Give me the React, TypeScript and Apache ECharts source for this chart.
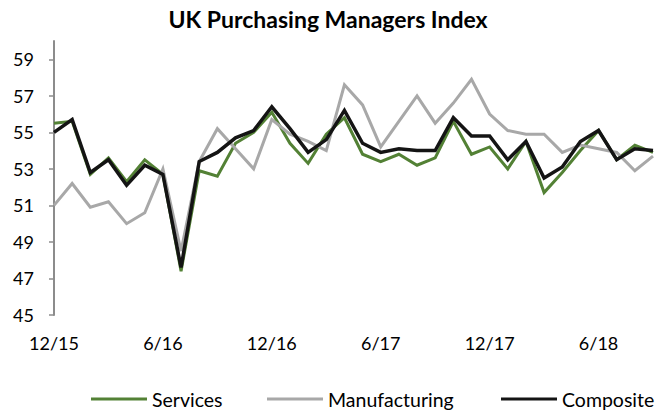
import React, { useEffect, useRef } from "react";
import * as echarts from "echarts";

const months: string[] = [
  "12/15", "1/16", "2/16", "3/16", "4/16", "5/16", "6/16", "7/16", "8/16", "9/16", "10/16", "11/16",
  "12/16", "1/17", "2/17", "3/17", "4/17", "5/17", "6/17", "7/17", "8/17", "9/17", "10/17", "11/17",
  "12/17", "1/18", "2/18", "3/18", "4/18", "5/18", "6/18", "7/18", "8/18", "9/18",
];

const services: number[] = [
  55.5, 55.6, 52.7, 53.6, 52.3, 53.5, 52.7, 47.4, 52.9, 52.6, 54.4, 55.0,
  56.1, 54.4, 53.3, 54.9, 55.8, 53.8, 53.4, 53.8, 53.2, 53.6, 55.6, 53.8,
  54.2, 53.0, 54.5, 51.7, 52.8, 54.0, 55.1, 53.5, 54.3, 53.9,
];

const manufacturing: number[] = [
  51.0, 52.2, 50.9, 51.2, 50.0, 50.6, 53.0, 48.5, 53.4, 55.2, 54.1, 53.0,
  55.7, 54.9, 54.5, 54.0, 57.6, 56.5, 54.2, 55.6, 57.0, 55.5, 56.6, 57.9,
  56.0, 55.1, 54.9, 54.9, 53.9, 54.3, 54.1, 53.9, 52.9, 53.7,
];

const composite: number[] = [
  55.0, 55.7, 52.8, 53.5, 52.1, 53.2, 52.7, 47.6, 53.4, 53.9, 54.7, 55.1,
  56.4, 55.2, 53.9, 54.6, 56.2, 54.4, 53.9, 54.1, 54.0, 54.0, 55.8, 54.8,
  54.8, 53.5, 54.5, 52.5, 53.1, 54.5, 55.1, 53.5, 54.1, 54.0,
];

const seriesNames: string[] = ["Services", "Manufacturing", "Composite"];
const yTicks: number[] = [45, 47, 49, 51, 53, 55, 57, 59];
const xLabelMonths: string[] = ["12/15", "6/16", "12/16", "6/17", "12/17", "6/18"];

const FONT = "Lato";
const legendLefts = [86, 262, 496];

export default function App() {
  const ref = useRef<HTMLDivElement>(null);
  useEffect(() => {
    if (!ref.current) return;
    const chart = echarts.init(ref.current, undefined, { renderer: "svg" });
    const lineSeries = (name: string, data: number[], color: string, width: number) => ({
      name,
      type: "line",
      data,
      symbol: "none",
      lineStyle: { color, width, join: "miter" },
      itemStyle: { color },
      emphasis: { disabled: true },
    });
    chart.setOption({
      animation: false,
      backgroundColor: "#ffffff",
      title: {
        text: "UK Purchasing Managers Index",
        left: "center",
        top: 2,
        textStyle: { fontFamily: FONT, fontWeight: "bold", fontSize: 23, color: "#000" },
      },
      legend: seriesNames.map((n, i) => ({
        left: legendLefts[i],
        top: 384,
        itemWidth: 56,
        itemHeight: 3,
        icon: "rect",
        selectedMode: false,
        textStyle: { fontFamily: FONT, fontSize: 19.5, color: "#000" },
        data: [n],
      })),
      grid: { left: 54, right: -4, top: 41, bottom: 99, containLabel: false },
      xAxis: {
        type: "category",
        data: months,
        boundaryGap: false,
        axisLine: { show: false },
        axisTick: { show: false },
        axisLabel: {
          margin: 19,
          interval: 0,
          fontFamily: FONT,
          fontSize: 18,
          color: "#000",
          formatter: (v: string) => (xLabelMonths.includes(v) ? v : ""),
        },
        splitLine: { show: false },
      },
      yAxis: {
        type: "value",
        min: 45,
        max: 60,
        axisLine: { show: true, lineStyle: { color: "#8c8c8c", width: 2 } },
        axisTick: { show: true, length: 5, lineStyle: { color: "#8c8c8c", width: 1.5 }, customValues: yTicks },
        axisLabel: {
          margin: 20,
          fontFamily: FONT,
          fontSize: 18,
          color: "#000",
          customValues: yTicks,
        },
        splitLine: { show: false },
      },
      series: [
        lineSeries(seriesNames[0], services, "#538135", 3),
        lineSeries(seriesNames[1], manufacturing, "#a8a8a8", 3),
        lineSeries(seriesNames[2], composite, "#141414", 3.5),
      ],
    });
    return () => chart.dispose();
  }, []);
  return (
    <div
      ref={ref}
      style={{ position: "absolute", left: 0, top: 0, width: 656, height: 414, overflow: "hidden" }}
    />
  );
}
